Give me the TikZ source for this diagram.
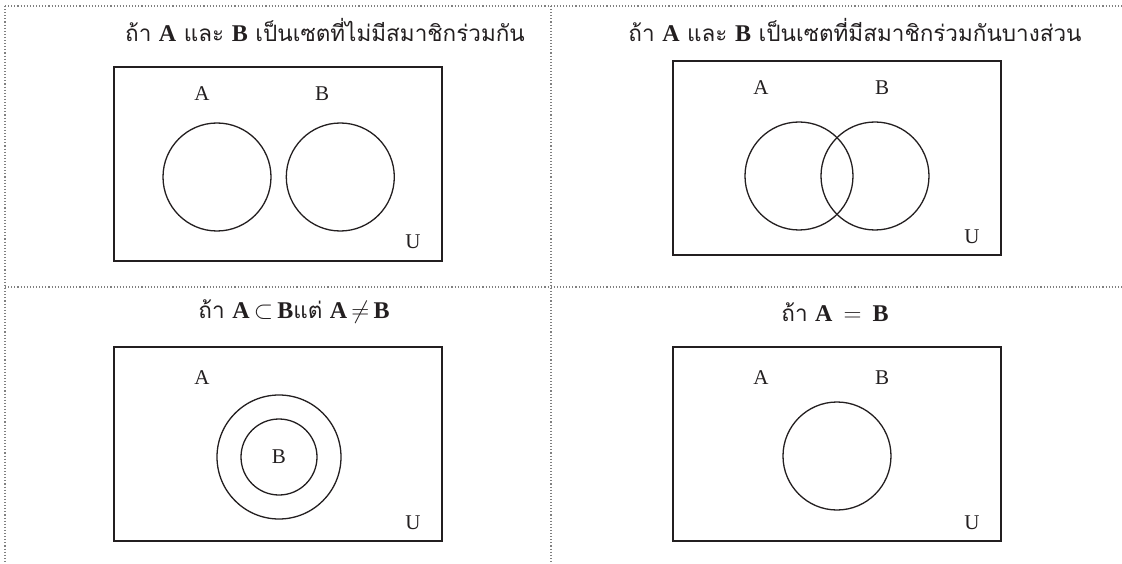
\documentclass[tikz,border=0pt]{standalone}
\usepackage{fontspec}
\setmainfont{Liberation Serif}
\newfontfamily\thaifont[Script=Thai]{Loma}
\usetikzlibrary{positioning}
\definecolor{inkdark}{HTML}{231F20}
\definecolor{gridgray}{HTML}{808080}
\tikzset{
  every node/.style={text=inkdark},
  ubox/.style={draw=inkdark, line width=1.6pt, minimum width=328pt, minimum height=194pt, inner sep=0pt},
  setc/.style={draw=inkdark, circle, line width=1.3pt, minimum size=108pt, inner sep=0pt},
  ttl/.style={font=\thaifont\fontsize{22.5}{26}\selectfont},
  lbl/.style={font=\fontsize{21}{24}\selectfont, inner sep=0pt},
  sep/.style={draw=gridgray, line width=1.1pt, dotted},
}
\newcommand{\tb}[1]{{\rmfamily\bfseries\fontsize{24}{26}\selectfont #1}}
\newcommand{\rel}[1]{{\fontsize{24}{26}\selectfont$\,#1\,$}}

\begin{document}
\begin{tikzpicture}[x=1pt, y=-1pt]
  \useasboundingbox (0,0) rectangle (1122,564);
  % dotted grid
  \coordinate (tl) at (5,6);
  \coordinate (tr) at (1122,6);
  \coordinate (bl) at (5,564);
  \coordinate (tm) at (551,6);
  \coordinate (bm) at (551,564);
  \coordinate (ml) at (5,287);
  \coordinate (mr) at (1122,287);
  \draw[sep] (tl) -- (tr);
  \draw[sep] (tl) -- (bl);
  \draw[sep] (tm) -- (bm);
  \draw[sep] (ml) -- (mr);

  % disjoint sets
  \node[ttl] (t1) at (325,30) {ถ้า \tb{A} และ \tb{B} เป็นเซตที่ไม่มีสมาชิกร่วมกัน};
  \node[ubox] (u1) at (278,164) {};
  \node[setc] (a1) at (217,177) {};
  \node[setc, right=14pt of a1] (b1) {};
  \node[lbl] (la1) at (202,94) {A};
  \node[lbl] (lb1) at (322,94) {B};
  \node[lbl] (lu1) at (413,242) {U};

  % overlapping sets
  \node[ttl] (t2) at (855,30) {ถ้า \tb{A} และ \tb{B} เป็นเซตที่มีสมาชิกร่วมกันบางส่วน};
  \node[ubox] (u2) at (837,158) {};
  \node[setc] (a2) at (799,176) {};
  \node[setc] (b2) at (875,176) {};
  \node[lbl] (la2) at (761,88) {A};
  \node[lbl] (lb2) at (882,88) {B};
  \node[lbl] (lu2) at (972,237) {U};

  % subset
  \node[ttl] (t3) at (294,312) {ถ้า \tb{A}\rel{\subset}\tb{B}แต่ \tb{A}\rel{\neq}\tb{B}};
  \node[ubox] (u3) at (278,444) {};
  \node[setc, minimum size=124pt] (a3) at (279,457) {};
  \node[setc, minimum size=76pt] (b3) at (a3) {};
  \node[lbl] (la3) at (202,378) {A};
  \node[lbl] (lb3) at (b3) {B};
  \node[lbl] (lu3) at (413,523) {U};

  % equal sets
  \node[ttl] (t4) at (835,312) {ถ้า \tb{A}\rel{\;=\;}\tb{B}};
  \node[ubox] (u4) at (837,444) {};
  \node[setc] (ab4) at (837,456) {};
  \node[lbl] (la4) at (761,378) {A};
  \node[lbl] (lb4) at (882,378) {B};
  \node[lbl] (lu4) at (972,523) {U};
\end{tikzpicture}
\end{document}
